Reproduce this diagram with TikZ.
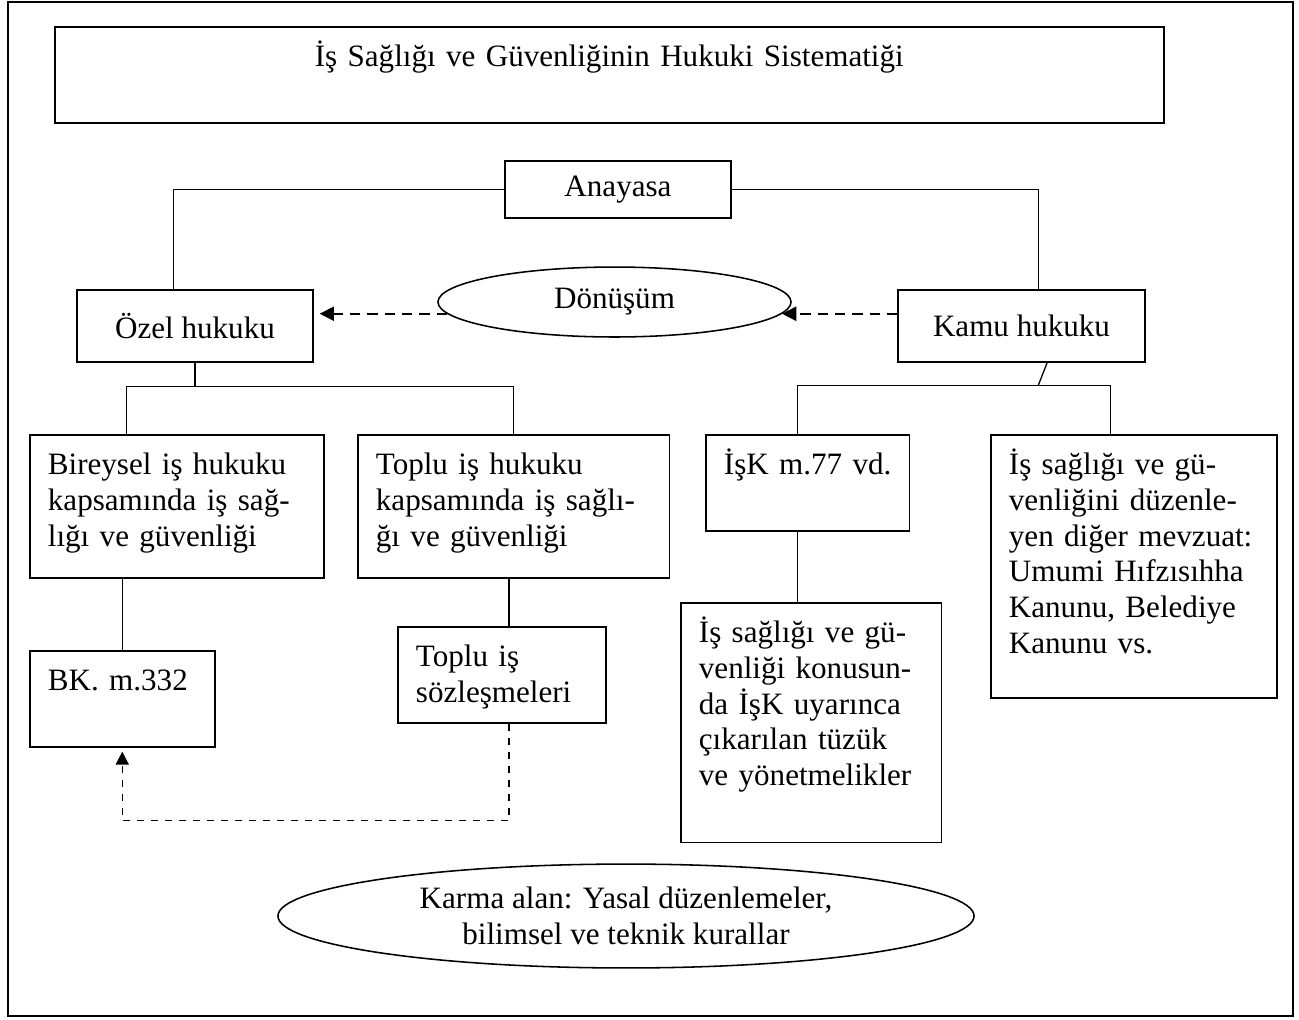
\documentclass[tikz,border=0pt]{standalone}
\usepackage{fontspec}
\setmainfont{Liberation Serif}
\usetikzlibrary{shapes.geometric,arrows.meta,positioning,calc}

\tikzset{
  every node/.style={font=\fontsize{12pt}{13.8pt}\selectfont},
  kutu/.style={draw, line width=0.6pt, anchor=north west, align=left, inner xsep=7pt, inner ysep=0pt, text height=15.4pt},
  ortakutu/.style={draw, line width=0.6pt, inner sep=0pt},
  elips/.style={draw, ellipse, line width=0.6pt, inner sep=0pt, align=center},
  bag/.style={line width=0.5pt},
  kesikok/.style={line width=0.6pt, dash pattern=on 4pt off 2.7pt, -{Triangle[length=5.5pt,width=5.5pt]}},
  incekesik/.style={line width=0.5pt, dash pattern=on 2.7pt off 2.7pt, -{Triangle[length=5pt,width=5pt]}}
}

\begin{document}
\begin{tikzpicture}[x=0.386pt, y=-0.386pt]
\useasboundingbox (0,0) rectangle (1299,1019);
\draw[line width=0.8pt] (8,2) rectangle (1293,1016);

\node[kutu, align=center, text width=414.1pt, text depth=21.7pt] (baslik) at (54,26) {İş Sağlığı ve Güvenliğinin Hukuki Sistematiği};
\node[ortakutu, minimum width=87.2pt, minimum height=22pt] (anayasa) at (618,189.5) {Anayasa};
\node[ortakutu, minimum width=91.1pt, minimum height=27.8pt] (ozel) at (195,326) {Özel hukuku};
\node[ortakutu, minimum width=95.3pt, minimum height=27.8pt] (kamu) at (1021.5,326) {Kamu hukuku};
\node[elips, minimum width=136.3pt, minimum height=27pt] (donusum) at (614.5,302) {Dönüşüm};

\node[kutu, text width=99.5pt, text depth=39.8pt] (bireysel) at (29,434) {Bireysel iş hukuku\\kapsamında iş sağ-\\lığı ve güvenliği};
\node[kutu, text width=106.4pt, text depth=39.8pt] (toplu) at (357,434) {Toplu iş hukuku\\kapsamında iş sağlı-\\ğı ve güvenliği};
\node[kutu, text width=57.4pt, text depth=21.7pt] (bk) at (29,650) {BK. m.332};
\node[kutu, text width=66.3pt, text depth=21.7pt] (soz) at (397,626) {Toplu iş\\sözleşmeleri};
\node[kutu, text width=64.7pt, text depth=21.7pt] (isk) at (705,434) {İşK m.77 vd.};
\node[kutu, text width=86.7pt, text depth=77.2pt] (orta) at (680,602) {İş sağlığı ve gü-\\venliği konusun-\\da İşK uyarınca\\çıkarılan tüzük\\ve yönetmelikler};
\node[kutu, text width=96.4pt, text depth=86.1pt] (sag) at (990,434) {İş sağlığı ve gü-\\venliğini düzenle-\\yen diğer mevzuat:\\Umumi Hıfzısıhha\\Kanunu, Belediye\\Kanunu vs.};
\node[elips, minimum width=268.7pt, minimum height=40.1pt] (karma) at (626,916) {Karma alan: Yasal düzenlemeler,\\bilimsel ve teknik kurallar};

\draw[bag] (anayasa.west) -| ($(ozel.north west)!0.41!(ozel.north east)$);
\draw[bag] (anayasa.east) -| ($(kamu.north west)!0.567!(kamu.north east)$);
\draw[kesikok] (donusum.184) -- ([xshift=2.3pt]ozel.east |- donusum.184);
\draw[kesikok] (kamu.west |- donusum.356) -- (donusum.356);

\draw[bag] (ozel.south) -- ++(0,24) coordinate (ozelkol);
\coordinate (birust) at ($(bireysel.north west)!0.331!(bireysel.north east)$);
\draw[bag] (birust) |- (ozelkol) -| (toplu.north);
\draw[bag] (bk.north) -- (bk.north |- bireysel.south);
\coordinate (sozust) at ($(soz.north west)!0.535!(soz.north east)$);
\draw[bag] (sozust) -- (sozust |- toplu.south);
\draw[incekesik] (sozust |- soz.south) -- ++(0,97) -| ([yshift=-1.5pt]bk.south);

\coordinate (kamualt) at ($(kamu.south west)!0.603!(kamu.south east)$);
\draw[bag] (kamualt) -- ++(-9,23) coordinate (kamukol);
\coordinate (iskust) at ($(isk.north west)!0.45!(isk.north east)$);
\coordinate (sagust) at ($(sag.north west)!0.42!(sag.north east)$);
\draw[bag] (iskust) |- (kamukol) -| (sagust);
\draw[bag] (iskust |- isk.south) -- (iskust |- orta.north);
\end{tikzpicture}
\end{document}
